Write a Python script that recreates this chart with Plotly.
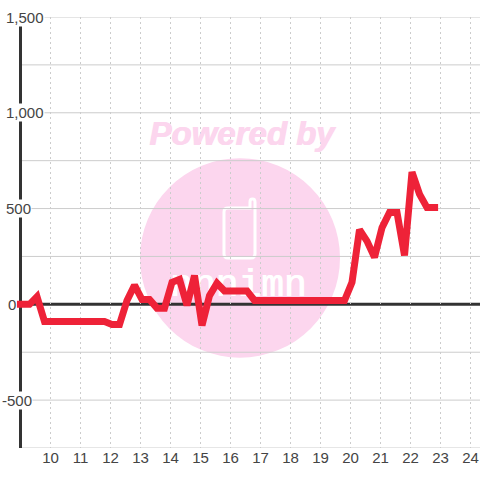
import plotly.graph_objects as go

# ---- data ----
hours = [8.88, 9.05, 9.3, 9.55, 9.8, 10.05, 10.3, 10.55, 10.8, 11.05, 11.3, 11.55, 11.8,
         12.05, 12.3, 12.55, 12.8, 13.05, 13.3, 13.55, 13.8, 14.05, 14.3, 14.55, 14.8,
         15.05, 15.3, 15.55, 15.8, 16.05, 16.3, 16.55, 16.8, 17.05, 17.3, 17.55, 17.8,
         18.05, 18.3, 18.55, 18.8, 19.05, 19.3, 19.55, 19.8, 20.05, 20.3, 20.55, 20.8,
         21.05, 21.3, 21.55, 21.8, 22.05, 22.3, 22.55, 22.8, 22.92]
values = [0, 0, 0, 40, -90, -90, -90, -90, -90, -90, -90, -90, -90,
          -105, -105, 20, 100, 25, 25, -20, -20, 115, 130, -5, 150,
          -110, 45, 110, 70, 70, 70, 70, 20, 20, 20, 20, 20,
          20, 20, 20, 20, 20, 20, 20, 20, 115, 390, 330, 245,
          400, 480, 480, 255, 690, 575, 505, 505, 505]
x_ticks = list(range(10, 25))
y_grid = [1500, 1250, 1000, 750, 500, 250, -250, -500, -750]
y_labels = {1500: "1,500", 1000: "1,000", 500: "500", 0: "0", -500: "-500"}
label_centres = {1500: 25, 1000: 25, 500: 18, 0: 12, -500: 16.5}
watermark_top = "Powered by"
watermark_logo = "nnnimn"

W = H = 480
L, R, T, B = 14, 0, 16.5, 31.5
X0 = 10 + (L - 50.5) / 30
X1 = 10 + (W - R - 50.5) / 30
Y0, Y1 = -750, 1500
SPINE_X = 9
PW, PH = W - L - R, H - T - B


def px(p):
    return (p - L) / PW


def py(p):
    return 1 - (p - T) / PH


def dx(p):
    return X0 + (p - L) / 30


def dy(p):
    return (304.5 - p) / 0.192


TEXT = "#444444"
GRID = "#cccccc"
DARK = "#333333"
PINK = "#fcd6ee"

fig = go.Figure()

# logo word sits under the red line
fig.add_trace(go.Scatter(
    x=[dx(238)], y=[dy(287)], mode="text", text=[watermark_logo],
    textfont=dict(family="Liberation Mono", size=38, color="#ffffff",
                  shadow="1px 0 0 #ffffff"),
    textposition="middle center", hoverinfo="skip", showlegend=False, cliponaxis=False))

fig.add_trace(go.Scatter(
    x=hours, y=values, mode="lines",
    line=dict(color="#ee2238", width=7, shape="linear"),
    hoverinfo="x+y", showlegend=False, cliponaxis=False))


def pp(x, y):
    return f"{px(x):.5f},{py(y):.5f}"


phone = ("M " + pp(228, 208) + " L " + pp(250, 208) + " L " + pp(250, 202)
         + " Q " + pp(250, 199) + " " + pp(252.5, 199)
         + " Q " + pp(255, 199) + " " + pp(255, 202)
         + " L " + pp(255, 254) + " Q " + pp(255, 258) + " " + pp(251, 258)
         + " L " + pp(228, 258) + " Q " + pp(224, 258) + " " + pp(224, 254)
         + " L " + pp(224, 212) + " Q " + pp(224, 208) + " " + pp(228, 208) + " Z")

shapes = [
    dict(type="circle", xref="paper", yref="paper", layer="below",
         x0=px(140), x1=px(340), y0=py(358), y1=py(158),
         fillcolor=PINK, line=dict(width=0)),
    dict(type="path", xref="paper", yref="paper", layer="below", path=phone,
         fillcolor="rgba(0,0,0,0)", line=dict(color="#ffffff", width=3)),
]
for g in y_grid:
    shapes.append(dict(type="line", xref="x", yref="y", layer="below",
                       x0=SPINE_X, x1=X1, y0=g, y1=g,
                       line=dict(color=GRID, width=1)))
shapes.append(dict(type="line", xref="x", yref="y", layer="below",
                   x0=SPINE_X, x1=X1, y0=0, y1=0, line=dict(color=DARK, width=3)))
shapes.append(dict(type="line", xref="x", yref="y", layer="below",
                   x0=SPINE_X, x1=SPINE_X, y0=Y0, y1=Y1, line=dict(color=DARK, width=3)))

annotations = [
    dict(xref="paper", yref="paper", x=px(242), y=py(133.5),
         text=f"<b><i>{watermark_top}</i></b>",
         showarrow=False, xanchor="center", yanchor="middle",
         font=dict(family="Liberation Sans", size=33, color=PINK,
                   shadow="1px 0 0 #fcd6ee")),
]
for val, lab in y_labels.items():
    annotations.append(dict(
        xref="paper", yref="y", x=px(label_centres[val]), y=val, text=lab,
        showarrow=False, xanchor="center", yanchor="middle", bgcolor="#ffffff",
        borderpad=0, font=dict(family="Liberation Sans", size=15, color=TEXT)))

fig.update_layout(
    width=W, height=H, autosize=False,
    margin=dict(l=L, r=R, t=T, b=B, pad=0),
    paper_bgcolor="#ffffff", plot_bgcolor="rgba(0,0,0,0)",
    font=dict(family="Liberation Sans", size=15, color=TEXT),
    shapes=shapes, annotations=annotations, showlegend=False,
    xaxis=dict(range=[X0, X1], tickmode="array", tickvals=x_ticks,
               ticktext=[str(v) for v in x_ticks], showgrid=True,
               gridcolor=GRID, gridwidth=1, griddash="2px,3px",
               zeroline=False, showline=False,
               ticks="", layer="below traces", ticklabelstandoff=-1,
               tickfont=dict(family="Liberation Sans", size=15, color=TEXT)),
    yaxis=dict(range=[Y0, Y1], showticklabels=False, showgrid=False,
               zeroline=False, showline=False, ticks=""),
)

fig.write_html("out.html", config={"displayModeBar": False},
               post_script="document.body.style.margin='0';")
